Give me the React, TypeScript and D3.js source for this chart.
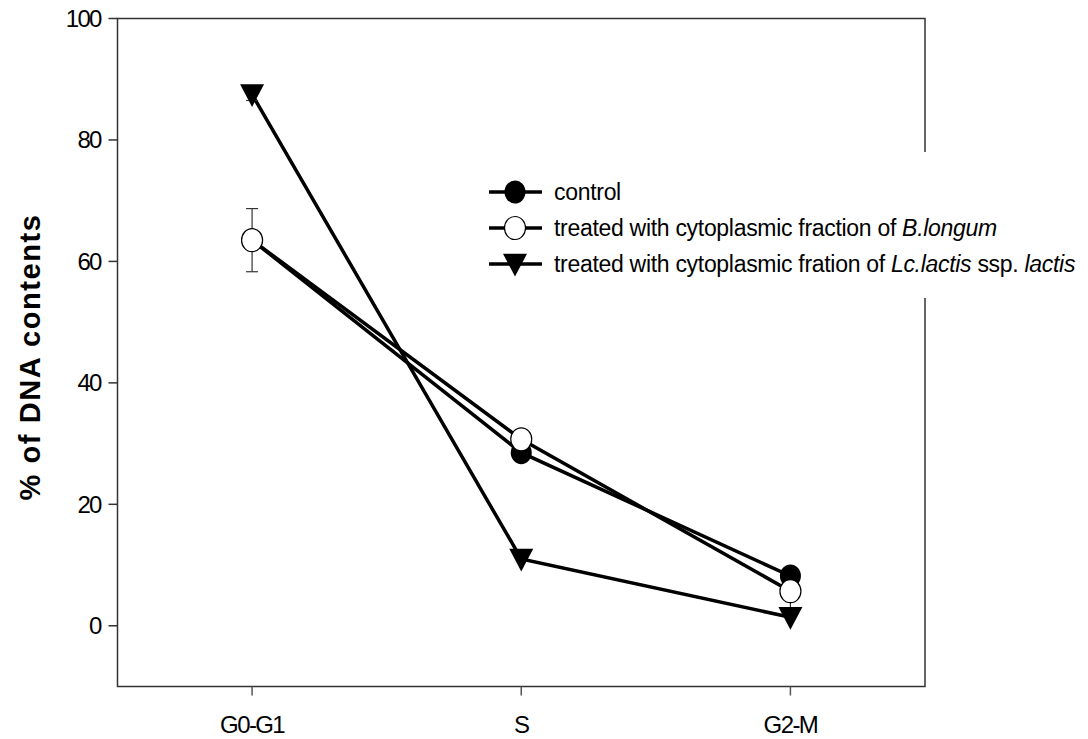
import React from "react";
import * as d3 from "d3";

const phases = ["G0-G1", "S", "G2-M"];
const controlVals = [63.5, 28.5, 8.2];
const longumVals = [63.5, 30.7, 5.7];
const longumErr = [5.2, 0, 3.0];
const lactisVals = [87.5, 11.0, 1.4];
const lactisErr = [1.0, 0, 0];
const yTicks = [0, 20, 40, 60, 80, 100];

const W = 1088;
const H = 739;
const left = 117.5;
const right = 925;
const top = 18.5;
const bottom = 686.5;
const font = "'Liberation Sans', Arial, sans-serif";

const x = d3.scalePoint<string>().domain(phases).range([left, right]).padding(0.5);
const y = d3.scaleLinear().domain([-10, 100]).range([bottom, top]);

const lineGen = d3
  .line<number>()
  .x((_, i) => x(phases[i]) as number)
  .y((d) => y(d));

const triPath = (cx: number, cy: number, s = 12) =>
  `M${cx - s},${cy - s * 0.85}L${cx + s},${cy - s * 0.85}L${cx},${cy + s * 1.05}Z`;

const App = () => {
  const errBars = (vals: number[], errs: number[], key: string) =>
    vals.map((v, i) =>
      errs[i] > 0 ? (
        <g key={key + i} stroke="#333" strokeWidth={1.2}>
          <line x1={x(phases[i])} x2={x(phases[i])} y1={y(v - errs[i])} y2={y(v + errs[i])} />
          <line x1={(x(phases[i]) as number) - 6} x2={(x(phases[i]) as number) + 6} y1={y(v - errs[i])} y2={y(v - errs[i])} />
          <line x1={(x(phases[i]) as number) - 6} x2={(x(phases[i]) as number) + 6} y1={y(v + errs[i])} y2={y(v + errs[i])} />
        </g>
      ) : null
    );

  const legendRows = [
    { kind: "filled", parts: [{ t: "control", i: false }] },
    {
      kind: "open",
      parts: [
        { t: "treated with cytoplasmic fraction of ", i: false },
        { t: "B.longum", i: true },
      ],
    },
    {
      kind: "tri",
      parts: [
        { t: "treated with cytoplasmic fration of ", i: false },
        { t: "Lc.lactis", i: true },
        { t: " ssp. ", i: false },
        { t: "lactis", i: true },
      ],
    },
  ];

  return (
    <svg width={W} height={H} style={{ position: "absolute", left: 0, top: 0, background: "#fff" }}>
      <rect x={0} y={0} width={W} height={H} fill="#fff" />
      {/* frame */}
      <rect x={left} y={top} width={right - left} height={bottom - top} fill="none" stroke="#333" strokeWidth={1.5} />

      {/* y ticks */}
      {yTicks.map((t) => (
        <g key={t}>
          <line x1={left - 9} x2={left} y1={y(t)} y2={y(t)} stroke="#333" strokeWidth={1.5} />
          <text x={left - 17} y={y(t) + 8.5} textAnchor="end" fontFamily={font} fontSize={24} letterSpacing={-1.8}>
            {t}
          </text>
        </g>
      ))}

      {/* x ticks */}
      {phases.map((p) => (
        <g key={p}>
          <line x1={x(p)} x2={x(p)} y1={bottom} y2={bottom + 9} stroke="#555" strokeWidth={1.5} />
          <text x={x(p)} y={bottom + 46} textAnchor="middle" fontFamily={font} fontSize={24} letterSpacing={-1.6}>
            {p}
          </text>
        </g>
      ))}

      <text
        transform={`translate(40,357) rotate(-90)`}
        textAnchor="middle"
        fontFamily={font}
        fontWeight="bold"
        fontSize={29}
        letterSpacing={1.6}
      >
        % of DNA contents
      </text>

      {/* lines */}
      <path d={lineGen(controlVals) as string} fill="none" stroke="#000" strokeWidth={3.5} />
      <path d={lineGen(longumVals) as string} fill="none" stroke="#000" strokeWidth={3.5} />
      <path d={lineGen(lactisVals) as string} fill="none" stroke="#000" strokeWidth={3.5} />

      {errBars(lactisVals, lactisErr, "le")}
      {errBars(longumVals, longumErr, "be")}

      {controlVals.map((v, i) => (
        <ellipse key={"c" + i} cx={x(phases[i])} cy={y(v)} rx={10.5} ry={11.5} fill="#000" />
      ))}
      {lactisVals.map((v, i) => (
        <path key={"t" + i} d={triPath(x(phases[i]) as number, y(v))} fill="#000" />
      ))}
      {longumVals.map((v, i) => (
        <ellipse key={"o" + i} cx={x(phases[i])} cy={y(v)} rx={10.5} ry={11.5} fill="#fff" stroke="#000" strokeWidth={1.2} />
      ))}

      {/* legend */}
      <rect x={482} y={152} width={570} height={146} fill="#fff" />
      {legendRows.map((r, k) => {
        const cy = 192 + k * 36;
        return (
          <g key={k}>
            <line x1={489} x2={542} y1={cy} y2={cy} stroke="#000" strokeWidth={3.5} />
            {r.kind === "filled" && <ellipse cx={515} cy={cy} rx={10.5} ry={11.5} fill="#000" />}
            {r.kind === "open" && <ellipse cx={515} cy={cy} rx={10.5} ry={11.5} fill="#fff" stroke="#000" strokeWidth={1.2} />}
            {r.kind === "tri" && <path d={triPath(515, cy)} fill="#000" />}
            <text x={554} y={cy + 8} fontFamily={font} fontSize={23} letterSpacing={-0.3}>
              {r.parts.map((p, j) => (
                <tspan key={j} fontStyle={p.i ? "italic" : "normal"}>
                  {p.t}
                </tspan>
              ))}
            </text>
          </g>
        );
      })}
    </svg>
  );
};

export default App;
